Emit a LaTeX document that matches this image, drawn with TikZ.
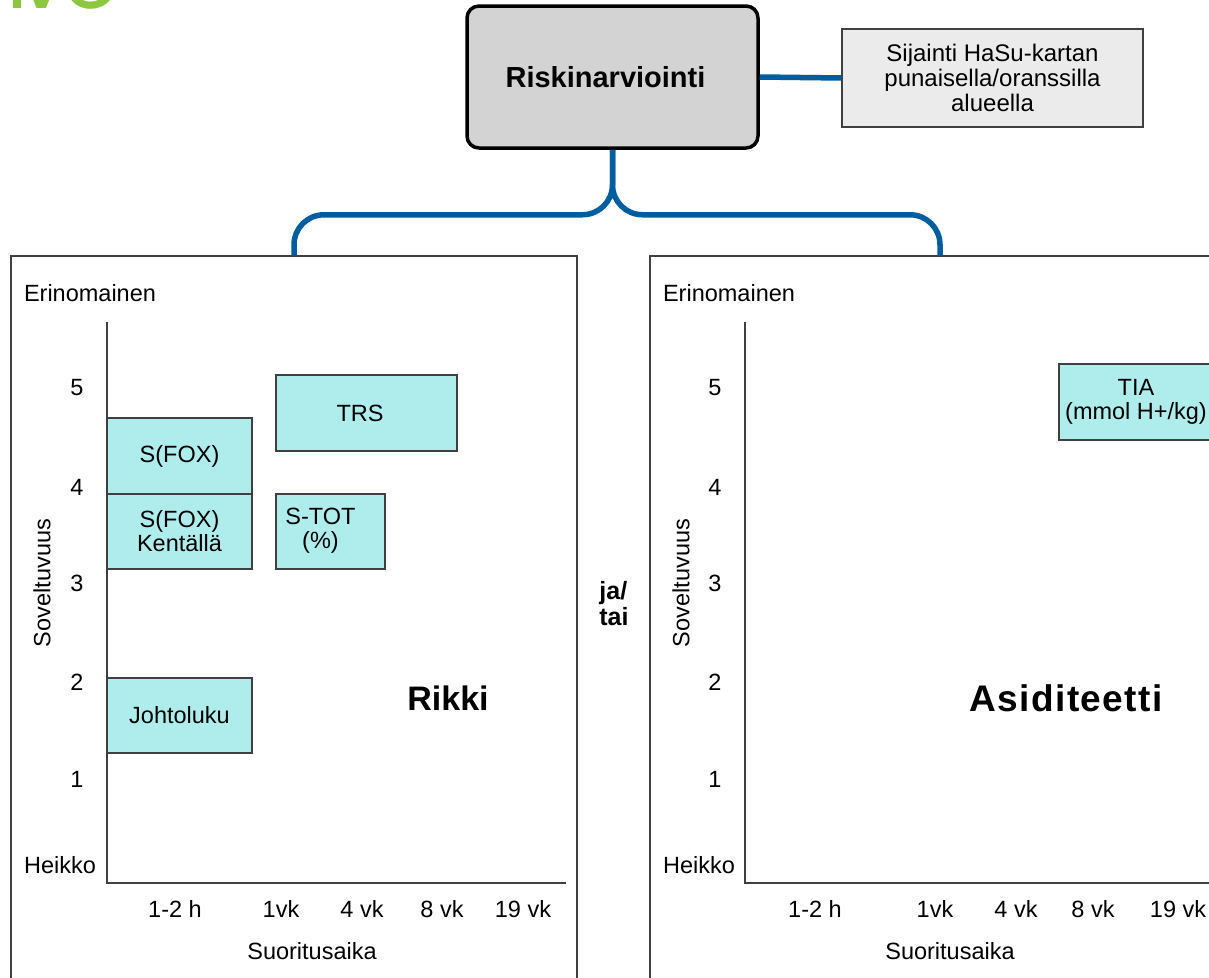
\documentclass[tikz,border=0pt]{standalone}
\usepackage{fontspec}
\setmainfont{Liberation Sans}
\newfontfamily\titlefont{Poppins}
\definecolor{linkblue}{RGB}{0,94,160}
\definecolor{boxcyan}{RGB}{175,237,237}
\definecolor{headgray}{RGB}{211,211,211}
\definecolor{notegray}{RGB}{235,235,235}
\definecolor{edgegray}{RGB}{64,64,64}
\definecolor{titlegreen}{RGB}{141,198,63}
\begin{document}
\begin{tikzpicture}[x=1pt,y=-1pt,
  txt/.style={font=\fontsize{23.5}{26}\selectfont, inner sep=0pt, align=center},
  bigtxt/.style={font=\fontsize{34}{36}\selectfont\bfseries, inner sep=0pt},
  headbox/.style={draw=black, line width=3.5pt, fill=headgray, rounded corners=12pt,
    minimum width=291pt, minimum height=142pt, inner sep=0pt,
    font=\fontsize{29}{32}\selectfont\bfseries},
  notebox/.style={draw=edgegray, line width=1.5pt, fill=notegray,
    minimum width=301pt, minimum height=98pt, inner sep=0pt, align=center,
    font=\fontsize{24}{25}\selectfont},
  panel/.style={draw=edgegray, line width=1.5pt, inner sep=0pt, minimum height=744pt},
  methodbox/.style={draw=edgegray, line width=2pt, fill=boxcyan, inner sep=0pt,
    minimum height=76pt, align=center, font=\fontsize{23.5}{24}\selectfont},
  link/.style={draw=linkblue, line width=5.5pt},
  axis/.style={draw=black!75, line width=2.2pt}
]
\useasboundingbox (0,0) rectangle (1209,977);
\clip (0,0) rectangle (1209,977);

% title remnant at the top left
\node[anchor=base east, inner sep=0pt, text=titlegreen,
      font=\titlefont\fontsize{90}{90}\selectfont] (title) at (120,9) {ar\kern-23pt v\kern-5pt o};

% header and location note
\node[headbox] (risk) at (612.5,77) {Riskinarviointi\hspace*{14pt}};
\node[notebox] (loc) at (992.5,78) {Sijainti HaSu-kartan\\punaisella/oranssilla\\alueella};
\draw[link] (risk.east) -- (loc.west);

% the two panels
\node[panel, minimum width=566pt] (lp) at (294,628) {};
\node[panel, minimum width=580pt] (rp) at (940,628) {};

% branching connector
\draw[link, rounded corners=30pt] (risk.south) -- ++(0,65) -| (lp.north);
\draw[link, rounded corners=30pt] (risk.south) -- ++(0,65) -| (rp.north);

% ---------- left panel: Rikki ----------
\node[methodbox, minimum width=145pt] (sfox) at (179.5,456) {S(FOX)};
\node[methodbox, minimum width=145pt, minimum height=75pt] (sfoxk) at (179.5,531.5) {S(FOX)\\Kentällä};
\node[methodbox, minimum width=181pt] (trs) at (366.5,413) {TRS\hspace*{13pt}};
\node[methodbox, minimum width=109pt, minimum height=75pt] (stot) at (330.5,531.5)
  {\begin{tabular}{@{}c@{}}S-TOT\\(\%)\end{tabular}\hspace*{20pt}};
\node[methodbox, minimum width=145pt, minimum height=75pt] (johto) at (179.5,715.5) {Johtoluku};

\draw[axis] (107,322) -- (107,883) -- (566,883);

\node[txt] (le) at (90,293) {Erinomainen};
\node[txt] (lh) at (60,865) {Heikko};
\node[txt] (l5) at (77,388) {5};
\node[txt] (l4) at (77,487) {4};
\node[txt] (l3) at (77,583) {3};
\node[txt] (l2) at (77,682) {2};
\node[txt] (l1) at (77,779) {1};
\node[txt, rotate=90] (ly) at (42,583) {Soveltuvuus};
\node[txt] (lx1) at (175,909) {1-2 h};
\node[txt] (lx2) at (281,909) {1vk};
\node[txt] (lx3) at (362,909) {4 vk};
\node[txt] (lx4) at (442,909) {8 vk};
\node[txt] (lx5) at (523,909) {19 vk};
\node[txt] (lxt) at (312,951) {Suoritusaika};
\node[bigtxt] (rikki) at (448,698) {Rikki};

% between the panels
\node[inner sep=0pt, align=left, font=\fontsize{25}{26}\selectfont\bfseries] (jatai) at (614,604) {ja/\\tai};

% ---------- right panel: Asiditeetti ----------
\node[methodbox, minimum width=154pt] (tia) at (1136,402) {TIA\\(mmol H+/kg)};

\draw[axis] (745,322) -- (745,883) -- (1212,883);

\node[txt] (re) at (729,293) {Erinomainen};
\node[txt] (rh) at (699,865) {Heikko};
\node[txt] (r5) at (715,388) {5};
\node[txt] (r4) at (715,487) {4};
\node[txt] (r3) at (715,583) {3};
\node[txt] (r2) at (715,682) {2};
\node[txt] (r1) at (715,779) {1};
\node[txt, rotate=90] (ry) at (681,583) {Soveltuvuus};
\node[txt] (rx1) at (815,909) {1-2 h};
\node[txt] (rx2) at (935,909) {1vk};
\node[txt] (rx3) at (1016,909) {4 vk};
\node[txt] (rx4) at (1093,909) {8 vk};
\node[txt] (rx5) at (1178,909) {19 vk};
\node[txt] (rxt) at (950,951) {Suoritusaika};
\node[bigtxt, font=\fontsize{37}{38}\selectfont\bfseries\addfontfeature{LetterSpace=4}] (asid) at (1066,698) {Asiditeetti};
\end{tikzpicture}
\end{document}
